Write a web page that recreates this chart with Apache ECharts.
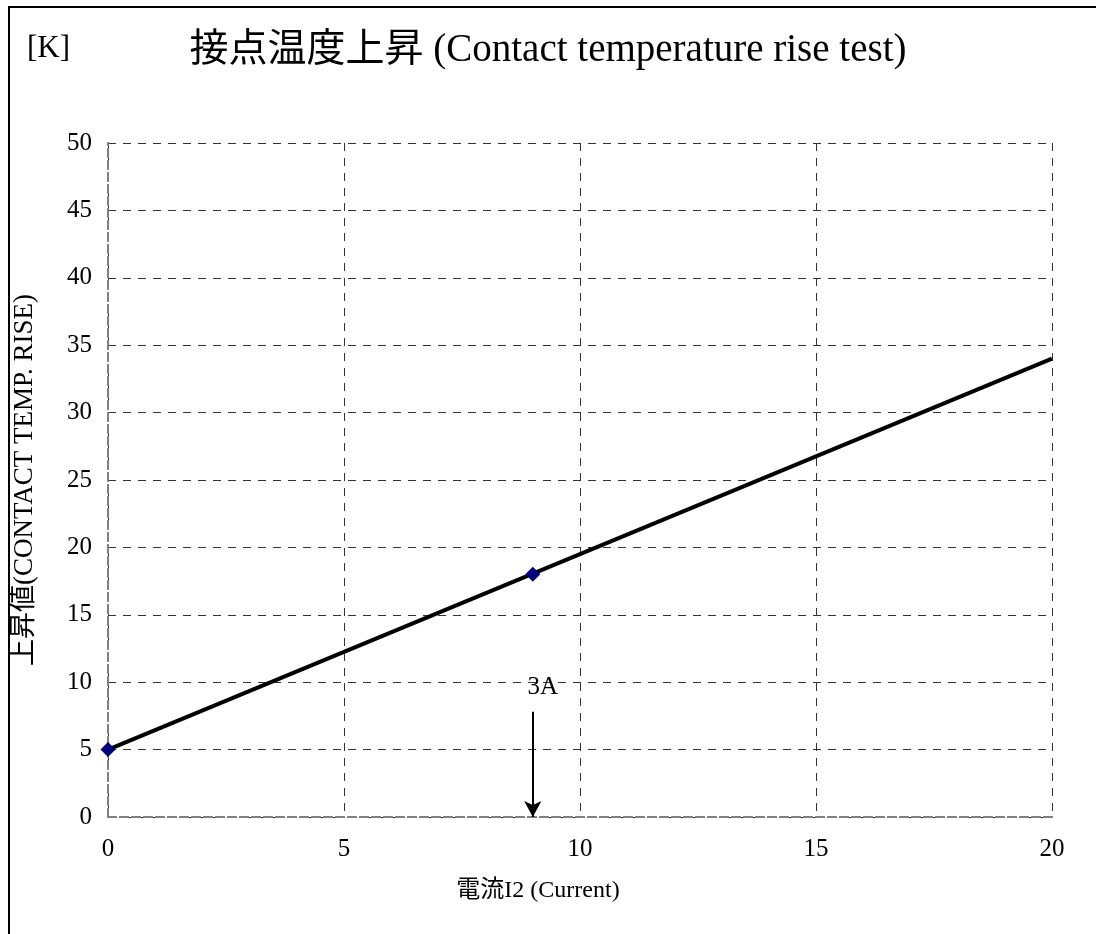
<!DOCTYPE html>
<html>
<head>
<meta charset="utf-8">
<script src="https://cdn.jsdelivr.net/npm/echarts@6/dist/echarts.min.js"></script>
<style>
  html, body { margin: 0; padding: 0; background: #fff; }
  #chart { width: 1096px; height: 934px; }
</style>
</head>
<body>
<div id="chart"></div>
<script>
// 測定点 (current, rise)
const measuredPoints = [[0, 5], [9, 18]]
// 近似直線
const trendLine = [[0, 5], [20, 34]]
// 3A の矢印
const arrowFrom = [9, 7.8]
const arrowTo = [9, 0]
const arrowLabel = '3A'

const FONT = '"Liberation Serif", "Noto Sans CJK JP", serif'

const chart = echarts.init(document.getElementById('chart'))

const option = {
  backgroundColor: '#fff',
  animation: false,
  textStyle: { fontFamily: FONT },
  graphic: [
    {
      type: 'rect',
      shape: { x: 9, y: 7, width: 1200, height: 1200 },
      style: { fill: 'none', stroke: '#000', lineWidth: 2 }
    },
    {
      type: 'text',
      left: 27,
      top: 33,
      style: { text: '[K]', font: '31px ' + FONT, fill: '#000' }
    }
  ],
  title: {
    text: '接点温度上昇 (Contact temperature rise test)',
    left: 'center',
    top: 26,
    textStyle: { fontFamily: FONT, fontSize: 39, fontWeight: 'normal', color: '#000' }
  },
  grid: { left: 108, right: 44, top: 143, bottom: 117, outerBoundsMode: 'none', containLabel: false },
  xAxis: [
    {
      type: 'value',
      min: 0,
      max: 20,
      interval: 5,
      name: '電流I2 (Current)',
      nameLocation: 'middle',
      nameGap: 62,
      nameTextStyle: { fontFamily: FONT, fontSize: 24, color: '#000', padding: [0, 84, 0, 0] },
      axisLine: { show: true, lineStyle: { color: '#808080', width: 2, type: 'dashed' } },
      axisTick: { show: false },
      axisLabel: { fontFamily: FONT, fontSize: 25, color: '#000', margin: 20 },
      splitLine: { show: true, lineStyle: { color: '#333', width: 1, type: [8, 7] } }
    },
    {
      type: 'value',
      position: 'top',
      min: 0,
      max: 20,
      axisLine: { show: true, lineStyle: { color: '#808080', width: 2, type: 'dashed' } },
      axisTick: { show: false },
      axisLabel: { show: false },
      splitLine: { show: false }
    }
  ],
  yAxis: [
    {
      type: 'value',
      min: 0,
      max: 50,
      interval: 5,
      name: '上昇値(CONTACT TEMP. RISE)',
      nameLocation: 'middle',
      nameGap: 70,
      nameRotate: 90,
      nameTextStyle: { fontFamily: FONT, fontSize: 27, color: '#000' },
      axisLine: { show: true, lineStyle: { color: '#808080', width: 2, type: 'dashed' } },
      axisTick: { show: false },
      axisLabel: { fontFamily: FONT, fontSize: 25, color: '#000', margin: 16 },
      splitLine: { show: true, lineStyle: { color: '#333', width: 1, type: [8, 7] } }
    },
    {
      type: 'value',
      position: 'right',
      min: 0,
      max: 50,
      axisLine: { show: true, lineStyle: { color: '#808080', width: 2, type: 'dashed' } },
      axisTick: { show: false },
      axisLabel: { show: false },
      splitLine: { show: false }
    }
  ],
  series: [
    {
      name: 'trend',
      type: 'line',
      data: trendLine,
      symbol: 'none',
      lineStyle: { color: '#000', width: 4 },
      z: 3,
      markLine: {
        silent: true,
        symbol: ['none', 'arrow'],
        symbolSize: [13, 16],
        lineStyle: { color: '#000', width: 2, type: 'solid' },
        label: {
          show: true,
          position: 'start',
          formatter: arrowLabel,
          fontFamily: FONT,
          fontSize: 25,
          color: '#000',
          distance: 12,
          offset: [10, 0]
        },
        data: [[{ coord: arrowFrom }, { coord: arrowTo }]]
      }
    },
    {
      name: 'measured',
      type: 'line',
      data: measuredPoints,
      symbol: 'diamond',
      symbolSize: 15,
      showSymbol: true,
      itemStyle: { color: '#000080' },
      lineStyle: { width: 0 },
      z: 4
    }
  ]
}

chart.setOption(option)
</script>
</body>
</html>
